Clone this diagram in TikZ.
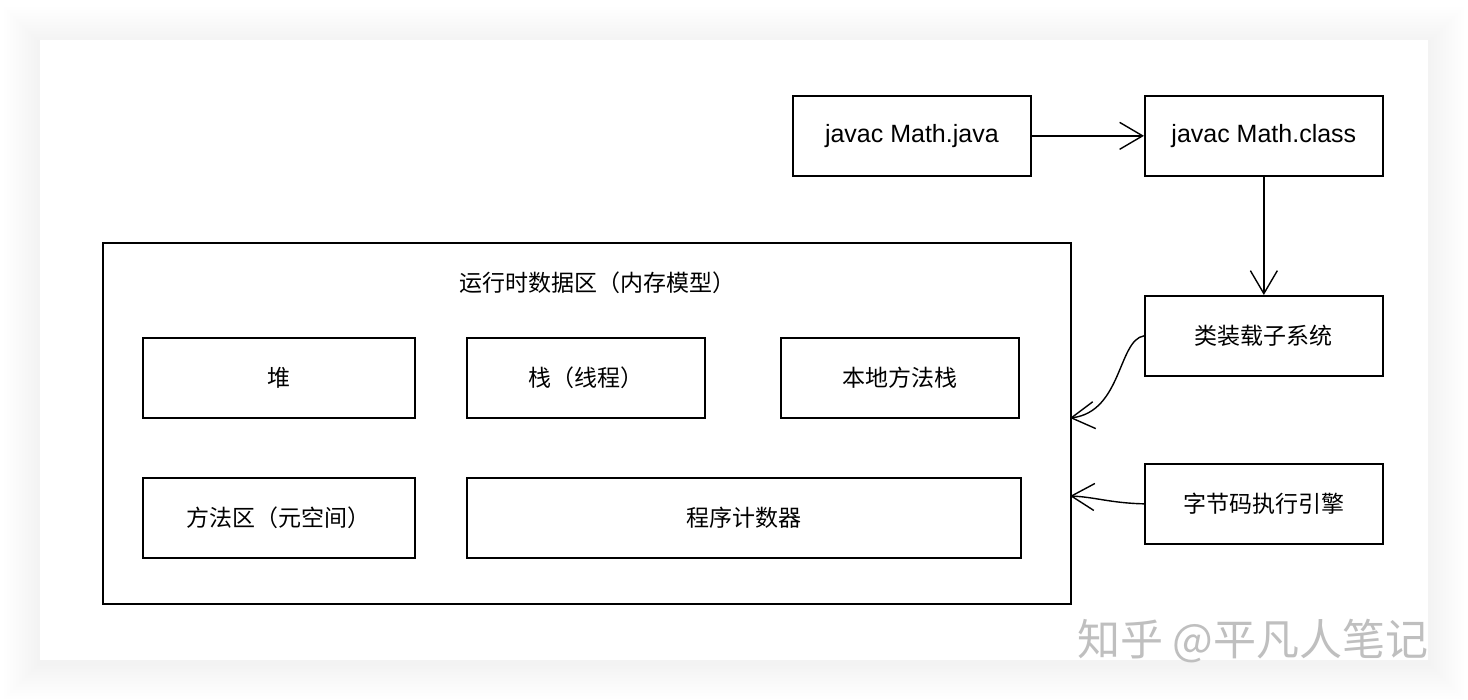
\documentclass[tikz,border=0pt]{standalone}
\usepackage{fontspec}
\setmainfont{Liberation Sans}
\newfontfamily\cjk{Noto Sans CJK SC}
\usetikzlibrary{arrows.meta}
\tikzset{
  box/.style={draw=black, line width=1.7pt, fill=white, inner sep=0pt},
  lbl/.style={font=\fontsize{23}{28}\selectfont\cjk},
  lat/.style={font=\fontsize{25}{30}\selectfont},
  arr/.style={draw=black, line width=1.4pt, -{Straight Barb[length=23pt,width=27pt,line width=1.4pt]}},
}
\begin{document}
\begin{tikzpicture}[x=1pt,y=-1pt]
\useasboundingbox (0,0) rectangle (1468,700);
\fill[white] (0,0) rectangle (1468,700);
% card shadow
\foreach \i in {1,...,12}{
  \fill[black, opacity=0.0045] (40-3*\i,40-3*\i+3) rectangle (1428+3*\i,660+3*\i+3);
}
\fill[white] (40,40) rectangle (1428,660);

% top boxes
\node[box, minimum width=238pt, minimum height=80pt, anchor=north west] (java) at (792,95) {};
\node[lat] at (java.center) {javac Math.java};
\node[box, minimum width=238pt, minimum height=80pt, anchor=north west] (cls) at (1144,95) {};
\node[lat] at (cls.center) {javac Math.class};
\node[box, minimum width=238pt, minimum height=80pt, anchor=north west] (loader) at (1144,295) {};
\node[lbl] at (loader.center) {类装载子系统};
\node[box, minimum width=238pt, minimum height=80pt, anchor=north west] (engine) at (1144,463) {};
\node[lbl] at (engine.center) {字节码执行引擎};

% runtime data area
\node[box, minimum width=968pt, minimum height=361pt, anchor=north west] (rt) at (102,242) {};
\node[lbl] (rttitle) at (597,283) {运行时数据区（内存模型）};
\node[box, minimum width=272pt, minimum height=80pt, anchor=north west] (heap) at (142,337) {};
\node[lbl] at (heap.center) {堆};
\node[box, minimum width=238pt, minimum height=80pt, anchor=north west] (stack) at (466,337) {};
\node[lbl] at (stack.center) {栈（线程）};
\node[box, minimum width=238pt, minimum height=80pt, anchor=north west] (native) at (780,337) {};
\node[lbl] at (native.center) {本地方法栈};
\node[box, minimum width=272pt, minimum height=80pt, anchor=north west] (meta) at (142,477) {};
\node[lbl] at (meta.center) {方法区（元空间）};
\node[box, minimum width=554pt, minimum height=80pt, anchor=north west] (pc) at (466,477) {};
\node[lbl] at (pc.center) {程序计数器};

% connectors
\coordinate (rtA) at (1070,418);
\coordinate (rtB) at (1070,496);
\draw[arr] (java.east) -- (cls.west);
\draw[arr] (cls.south) -- (loader.north);
\draw[arr] (loader.west) .. controls (1118,340) and (1122,412) .. (rtA);
\draw[arr] (engine.west) .. controls (1110,503) and (1095,497) .. (rtB);

% watermark
\node[font=\fontsize{43}{46}\selectfont\cjk, text=black!25, anchor=east] (wm) at (1432,641) {知乎 @平凡人笔记};
\end{tikzpicture}
\end{document}
